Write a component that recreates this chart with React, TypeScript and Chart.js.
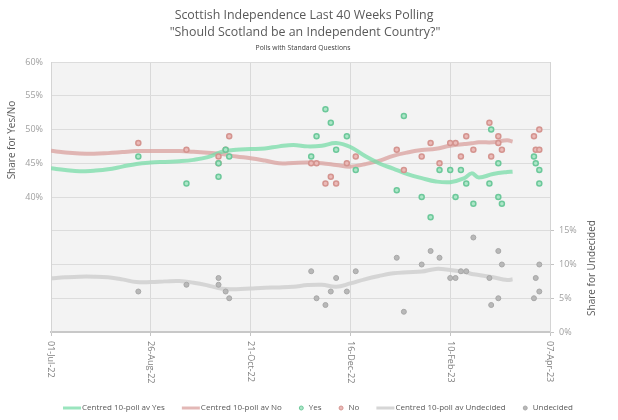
import React, { useEffect, useRef } from "react";
import { Chart, registerables } from "chart.js";

Chart.register(...registerables);

// ---- Data ----
const titleLines = ["Scottish Independence Last 40 Weeks Polling", "\"Should Scotland be an Independent Country?\""];
const subtitle = "Polls with Standard Questions";
const xTickLabels = ["01-Jul-22", "26-Aug-22", "21-Oct-22", "16-Dec-22", "10-Feb-23", "07-Apr-23"];
const leftAxisTitle = "Share for Yes/No";
const rightAxisTitle = "Share for Undecided";

// days since 01-Jul-22 for each poll
const pollDays = [49, 76, 94, 94, 98, 100, 146, 149, 154, 157, 160, 166, 171, 194, 198, 208, 213, 218, 224, 227, 230, 233, 237, 246, 247, 251, 251, 253, 271, 272, 274, 274];
const yesShare = [46, 42, 43, 45, 47, 46, 46, 49, 53, 51, 47, 49, 44, 41, 52, 40, 37, 44, 44, 40, 44, 42, 39, 42, 50, 45, 40, 39, 46, 45, 44, 42];
const noShare = [48, 47, 46, 45, 47, 49, 45, 45, 42, 43, 42, 45, 46, 47, 44, 46, 48, 45, 48, 48, 46, 49, 47, 51, 46, 49, 48, 47, 49, 47, 50, 47];
const undecidedShare = [6, 7, 8, 7, 6, 5, 9, 5, 4, 6, 8, 6, 9, 11, 3, 10, 12, 11, 8, 8, 9, 9, 14, 8, 4, 5, 12, 10, 5, 8, 10, 6];

// centred 10-poll averages
const avgDays = [0, 8, 16, 24, 32, 40, 48, 56, 64, 72, 80, 88, 96, 104, 112, 120, 128, 136, 144, 152, 160, 168, 176, 184, 192, 200, 208, 216, 224, 232, 236, 240, 248, 256, 259];
const avgYes = [44.25, 44.0, 43.8, 43.9, 44.1, 44.5, 44.9, 45.1, 45.2, 45.3, 45.5, 45.9, 46.7, 47.0, 47.1, 47.2, 47.5, 47.7, 47.5, 47.6, 48.0, 47.4, 46.1, 45.0, 44.2, 43.4, 42.8, 42.3, 42.2, 42.8, 43.5, 42.9, 43.4, 43.7, 43.75];
const avgNo = [46.85, 46.6, 46.45, 46.4, 46.5, 46.65, 46.8, 46.8, 46.8, 46.8, 46.7, 46.55, 46.35, 46.0, 45.75, 45.4, 45.0, 45.05, 45.1, 45.0, 44.75, 44.5, 44.85, 45.35, 46.1, 46.6, 46.95, 47.15, 47.6, 47.85, 47.95, 48.1, 48.1, 48.4, 48.2];
const avgUndecided = [7.95, 8.1, 8.2, 8.2, 8.1, 7.8, 7.4, 7.4, 7.5, 7.55, 7.3, 6.9, 6.4, 6.35, 6.45, 6.55, 6.6, 6.7, 6.95, 7.0, 6.7, 7.2, 7.8, 8.3, 8.7, 8.86, 8.95, 9.35, 9.2, 8.9, 8.6, 8.45, 8.1, 7.7, 7.8];

const legendLabels = ["Centred 10-poll av Yes", "Centred 10-poll av No", "Yes", "No", "Centred 10-poll av Undecided", "Undecided"];

// ---- Styles ----
const FONT = "'Open Sans', 'Noto Sans', sans-serif";
const GREEN_LINE = "rgba(120, 220, 168, 0.75)";
const RED_LINE = "rgba(218, 160, 158, 0.75)";
const GREY_LINE = "rgba(210, 210, 210, 0.9)";
const GREEN_PT = "#ade6c8";
const GREEN_PT_B = "#6cc89a";
const RED_PT = "#ebbab8";
const RED_PT_B = "#d4948f";
const GREY_PT = "#b8b8b8";
const GREY_PT_B = "#a8a8a8";

const pts = (xs: number[], ys: number[]) => xs.map((x, i) => ({ x, y: ys[i] }));

const decorPlugin = {
  id: "decor",
  beforeDraw(chart: any) {
    const { ctx, chartArea } = chart;
    ctx.save();
    ctx.fillStyle = "#f3f3f3";
    ctx.fillRect(chartArea.left, chartArea.top, chartArea.right - chartArea.left, chartArea.bottom - chartArea.top);
    ctx.restore();
  },
  afterDraw(chart: any) {
    const { ctx, chartArea } = chart;
    const xs = chart.scales.x;
    ctx.save();
    // titles
    ctx.textAlign = "center";
    ctx.textBaseline = "middle";
    ctx.fillStyle = "#595959";
    ctx.font = `12.4px ${FONT}`;
    ctx.fillText(titleLines[0], 304, 15);
    ctx.fillText(titleLines[1], 305, 32);
    ctx.fillStyle = "#404040";
    ctx.font = `6.8px ${FONT}`;
    ctx.fillText(subtitle, 303, 48);

    // axis titles
    ctx.fillStyle = "#595959";
    ctx.font = `10px ${FONT}`;
    ctx.save();
    ctx.translate(12, 140);
    ctx.rotate(-Math.PI / 2);
    ctx.fillText(leftAxisTitle, 0, 0);
    ctx.restore();
    ctx.save();
    ctx.translate(592, 268);
    ctx.rotate(-Math.PI / 2);
    ctx.fillText(rightAxisTitle, 0, 0);
    ctx.restore();

    // x tick labels, rotated clockwise
    ctx.fillStyle = "#7f7f7f";
    ctx.font = `9px ${FONT}`;
    ctx.textAlign = "left";
    ctx.textBaseline = "middle";
    xs.ticks.forEach((t: any, i: number) => {
      const px = xs.getPixelForValue(t.value);
      ctx.save();
      ctx.translate(px, chartArea.bottom + 9);
      ctx.rotate(Math.PI / 2);
      ctx.fillText(xTickLabels[i] ?? "", 0, 0);
      ctx.restore();
    });

    // legend
    ctx.font = `8px ${FONT}`;
    ctx.fillStyle = "#595959";
    const kinds = ["line", "line", "dot", "dot", "line", "dot"];
    const fills = [GREEN_LINE, RED_LINE, GREEN_PT, RED_PT, GREY_LINE, GREY_PT];
    const borders = [GREEN_LINE, RED_LINE, GREEN_PT_B, RED_PT_B, GREY_LINE, GREY_PT_B];
    const widths = legendLabels.map((l, i) => (kinds[i] === "line" ? 19 : 10) + ctx.measureText(l).width);
    const gap = 17;
    const total = widths.reduce((a, b) => a + b, 0) + gap * (widths.length - 1);
    let cx = 318 - total / 2;
    const ly = 408;
    legendLabels.forEach((l, i) => {
      if (kinds[i] === "line") {
        ctx.strokeStyle = fills[i];
        ctx.lineWidth = 3;
        ctx.beginPath();
        ctx.moveTo(cx, ly);
        ctx.lineTo(cx + 18, ly);
        ctx.stroke();
        ctx.fillStyle = "#595959";
        ctx.fillText(l, cx + 19, ly);
      } else {
        ctx.fillStyle = fills[i];
        ctx.strokeStyle = borders[i];
        ctx.lineWidth = 1;
        ctx.beginPath();
        ctx.arc(cx + 2.5, ly, 2, 0, Math.PI * 2);
        ctx.fill();
        ctx.stroke();
        ctx.fillStyle = "#595959";
        ctx.fillText(l, cx + 10, ly);
      }
      cx += widths[i] + gap;
    });
    ctx.restore();
  },
};

export default function App() {
  const ref = useRef<HTMLCanvasElement | null>(null);
  useEffect(() => {
    if (!ref.current) return;
    Chart.defaults.font.family = FONT;
    const chart = new Chart(ref.current, {
      type: "scatter",
      data: {
        datasets: [
          {
            type: "line",
            label: legendLabels[0],
            data: pts(avgDays, avgYes),
            yAxisID: "y",
            borderColor: GREEN_LINE,
            borderWidth: 4,
            pointRadius: 0,
            tension: 0.4,
            fill: false,
            order: 3,
          },
          {
            type: "line",
            label: legendLabels[1],
            data: pts(avgDays, avgNo),
            yAxisID: "y",
            borderColor: RED_LINE,
            borderWidth: 4,
            pointRadius: 0,
            tension: 0.4,
            fill: false,
            order: 4,
          },
          {
            label: legendLabels[2],
            data: pts(pollDays, yesShare),
            yAxisID: "y",
            backgroundColor: GREEN_PT,
            borderColor: GREEN_PT_B,
            borderWidth: 1.5,
            pointRadius: 2.5,
            order: 1,
          },
          {
            label: legendLabels[3],
            data: pts(pollDays, noShare),
            yAxisID: "y",
            backgroundColor: RED_PT,
            borderColor: RED_PT_B,
            borderWidth: 1.5,
            pointRadius: 2.5,
            order: 2,
          },
          {
            type: "line",
            label: legendLabels[4],
            data: pts(avgDays, avgUndecided),
            yAxisID: "y2",
            borderColor: GREY_LINE,
            borderWidth: 4,
            pointRadius: 0,
            tension: 0.4,
            fill: false,
            order: 5,
          },
          {
            label: legendLabels[5],
            data: pts(pollDays, undecidedShare),
            yAxisID: "y2",
            backgroundColor: GREY_PT,
            borderColor: GREY_PT_B,
            borderWidth: 1,
            pointRadius: 2.5,
            order: 2,
          },
        ],
      },
      options: {
        responsive: false,
        animation: false,
        devicePixelRatio: 1,
        layout: { padding: { top: 62, left: 0, right: 0, bottom: 0 } },
        plugins: { legend: { display: false }, tooltip: { enabled: false }, title: { display: false } },
        scales: {
          x: {
            type: "linear",
            min: 0,
            max: 280,
            ticks: { stepSize: 56, display: false },
            grid: { color: "#d9d9d9", lineWidth: 1, drawTicks: true, tickLength: 4, tickColor: "#c4c4c4" },
            border: { display: true, color: "#c8c8c8", width: 2 },
            afterFit: (s: any) => {
              s.height = 88;
            },
          },
          y: {
            position: "left",
            min: 20,
            max: 60,
            ticks: {
              stepSize: 5,
              padding: 8,
              color: "#a0a0a0",
              font: { size: 9, family: FONT },
              callback: (v: any) => (Number(v) >= 40 ? `${v}%` : ""),
            },
            grid: { color: "#dcdcdc", drawTicks: false },
            border: { display: true, color: "#d4d4d4" },
            afterFit: (s: any) => {
              s.width = 51;
            },
          },
          y2: {
            position: "right",
            min: 0,
            max: 40,
            ticks: {
              stepSize: 5,
              padding: 5,
              color: "#a0a0a0",
              font: { size: 9, family: FONT },
              callback: (v: any) => (Number(v) <= 15 ? `${v}%` : ""),
            },
            grid: {
              drawOnChartArea: false,
              tickLength: 4,
              color: (c: any) => (c.tick && c.tick.value <= 15 ? "#c4c4c4" : "rgba(0,0,0,0)"),
            },
            border: { display: true, color: "#d4d4d4" },
            afterFit: (s: any) => {
              s.width = 68;
            },
          },
        },
      },
      plugins: [decorPlugin],
    } as any);
    return () => chart.destroy();
  }, []);
  return (
    <div style={{ position: "absolute", left: 0, top: 0, width: 618, height: 420, background: "#fff" }}>
      <canvas ref={ref} width={618} height={420} />
    </div>
  );
}
